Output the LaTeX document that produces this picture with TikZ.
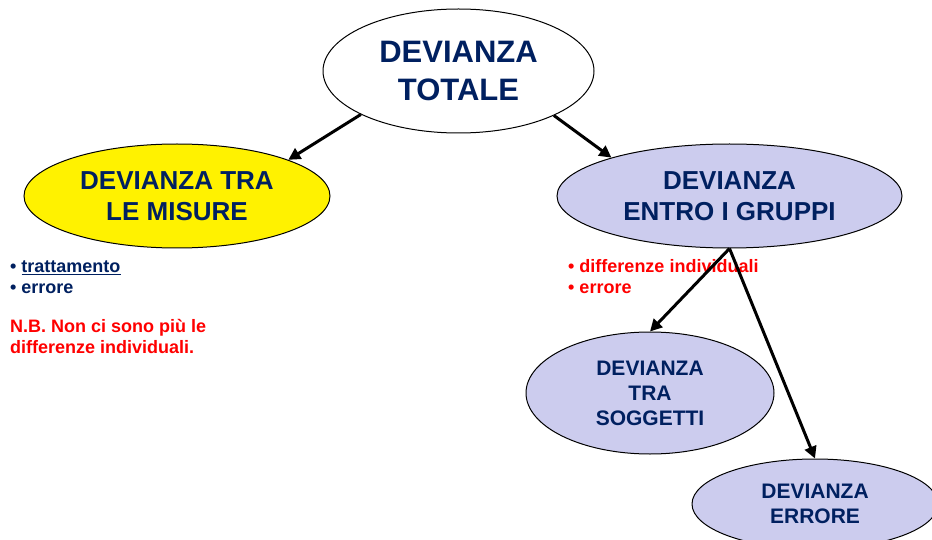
\documentclass[tikz,border=0pt]{standalone}
\usepackage{fontspec}
\setmainfont{Liberation Sans}
\usetikzlibrary{shapes.geometric,arrows.meta}
\definecolor{navy}{RGB}{0,32,96}
\definecolor{lilla}{RGB}{204,204,238}
\begin{document}
\begin{tikzpicture}[
        x=1pt, y=-1pt,
        blob/.style={draw, ellipse, line width=1pt, inner sep=0pt, text=navy, align=center},
        big/.style={font=\bfseries\fontsize{31}{38}\selectfont},
        mid/.style={font=\bfseries\fontsize{26}{31}\selectfont},
        small/.style={font=\bfseries\fontsize{21}{25}\selectfont},
        voce/.style={anchor=base west, inner sep=0pt, align=left, font=\bfseries\fontsize{18}{21}\selectfont},
        freccia/.style={-{Triangle[length=12pt,width=12pt]}, line width=3pt},
    ]
    \clip (0,0) rectangle (932,540);
    \node[blob, big, fill=white, minimum width=271pt, minimum height=124pt] (totale) at (458.5,71) {DEVIANZA\\TOTALE};
    \node[blob, mid, fill=yellow, minimum width=306pt, minimum height=104pt] (misure) at (177,196) {DEVIANZA TRA\\LE MISURE};
    \node[blob, mid, fill=lilla, minimum width=345pt, minimum height=104pt] (entro) at (729.5,196) {DEVIANZA\\ENTRO I GRUPPI};
    \node[blob, small, fill=lilla, minimum width=248pt, minimum height=122pt] (soggetti) at (650,393) {DEVIANZA\\TRA\\SOGGETTI};
    \node[blob, small, fill=lilla, minimum width=246pt, minimum height=90pt] (errore) at (815,504) {DEVIANZA\\ERRORE};

    % base = last line
    \node[voce, text=navy] (fonti) at (10,294) {• \underline{trattamento}\\• errore};
    \node[voce, text=red] (nota) at (10,353.5) {N.B. Non ci sono più le\\differenze individuali.};
    \node[voce, text=red] (fontientro) at (568,294) {• differenze individuali\\• errore};

    \draw[freccia] (totale.204.7) -- (misure.18.6);
    \draw[freccia] (totale.335.3) -- (entro.162);
    \draw[freccia] (entro.south) -- (soggetti.north);
    \draw[freccia] (entro.south) -- (errore.north);
\end{tikzpicture}
\end{document}
